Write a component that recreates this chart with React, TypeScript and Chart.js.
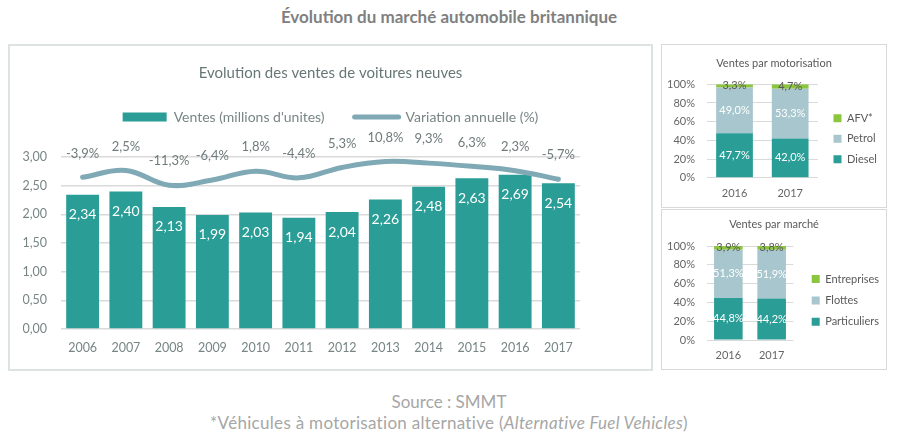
import React, { useEffect, useRef } from "react";
import { Chart, registerables } from "chart.js";

Chart.register(...registerables);

// ---------- DATA ----------
const years = ["2006", "2007", "2008", "2009", "2010", "2011", "2012", "2013", "2014", "2015", "2016", "2017"];
const sales = [2.34, 2.4, 2.13, 1.99, 2.03, 1.94, 2.04, 2.26, 2.48, 2.63, 2.69, 2.54];
const variation = [-3.9, 2.5, -11.3, -6.4, 1.8, -4.4, 5.3, 10.8, 9.3, 6.3, 2.3, -5.7];

const motorYears = ["2016", "2017"];
const diesel = [47.7, 42.0];
const petrol = [49.0, 53.3];
const afv = [3.3, 4.7];

const marketYears = ["2016", "2017"];
const particuliers = [44.8, 44.2];
const flottes = [51.3, 51.9];
const entreprises = [3.9, 3.8];

// ---------- STYLE ----------
const FONT = "Lato, 'Open Sans', sans-serif";
const TEAL = "#299d96";
const LINE = "#7ea9b5";
const PETROL = "#a7c6cd";
const GREEN = "#8cc63f";
const AXIS_TXT = "#788585";
const GRID = "#dadada";
const SMALL_TXT = "#666666";

Chart.defaults.font.family = FONT;

const fr = (v: number, d: number) => v.toFixed(d).replace(".", ",");

const mainLabels = {
  id: "mainLabels",
  afterDatasetsDraw(chart: any) {
    const ctx = chart.ctx;
    ctx.save();
    ctx.textAlign = "center";
    ctx.textBaseline = "middle";
    const barMeta = chart.getDatasetMeta(0);
    ctx.font = `14px ${FONT}`;
    ctx.fillStyle = "#ffffff";
    barMeta.data.forEach((el: any, i: number) => {
      const p = el.getProps(["x", "y"], true);
      ctx.fillText(fr(sales[i], 2), p.x, p.y + 20);
    });
    const lineMeta = chart.getDatasetMeta(1);
    ctx.font = `13px ${FONT}`;
    ctx.fillStyle = "#6f7b7b";
    lineMeta.data.forEach((el: any, i: number) => {
      const p = el.getProps(["x", "y"], true);
      ctx.fillText(fr(variation[i], 1) + "%", p.x, p.y - 24);
    });
    ctx.restore();
  },
};

const stackLabels = (colors: string[]) => ({
  id: "stackLabels",
  afterDatasetsDraw(chart: any) {
    const ctx = chart.ctx;
    ctx.save();
    ctx.textAlign = "center";
    ctx.textBaseline = "middle";
    ctx.font = `11px ${FONT}`;
    chart.data.datasets.forEach((ds: any, di: number) => {
      const meta = chart.getDatasetMeta(di);
      ctx.fillStyle = colors[di];
      meta.data.forEach((el: any, i: number) => {
        const p = el.getProps(["x", "y", "base"], true);
        ctx.fillText(fr(ds.data[i], 1) + "%", p.x, (p.y + p.base) / 2);
      });
    });
    ctx.restore();
  },
});

function MainChart() {
  const ref = useRef<HTMLCanvasElement>(null);
  useEffect(() => {
    const chart = new Chart(ref.current as HTMLCanvasElement, {
      type: "bar",
      data: {
        labels: years,
        datasets: [
          {
            type: "bar",
            label: "Ventes (millions d'unites)",
            data: sales,
            backgroundColor: TEAL,
            yAxisID: "y",
            barPercentage: 0.76,
            categoryPercentage: 1,
            order: 1,
          } as any,
          {
            type: "line",
            label: "Variation annuelle (%)",
            data: variation,
            borderColor: LINE,
            backgroundColor: LINE,
            borderWidth: 5,
            tension: 0.4,
            pointRadius: 0,
            pointHoverRadius: 0,
            yAxisID: "y2",
            order: 0,
            borderCapStyle: "round",
            borderJoinStyle: "round",
          } as any,
        ],
      },
      options: {
        animation: false,
        responsive: false,
        maintainAspectRatio: false,
        events: [],
        layout: { padding: { left: 13, right: 13, top: 0, bottom: 3 } },
        plugins: {
          title: {
            display: true,
            text: "Evolution des ventes de voitures neuves",
            color: "#677777",
            font: { family: FONT, size: 15, weight: "normal" },
            padding: { top: 18, bottom: -2 },
          },
          subtitle: {
            display: true,
            text: "",
            weight: 500,
            position: "top",
            font: { size: 1 },
            padding: { top: 0, bottom: 21.8 },
          } as any,
          legend: {
            display: true,
            position: "top",
            labels: {
              usePointStyle: true,
              pointStyleWidth: 44,
              boxHeight: 9,
              padding: 30,
              color: AXIS_TXT,
              font: { family: FONT, size: 14 },
              sort: (a: any, b: any) => a.datasetIndex - b.datasetIndex,
              generateLabels: (chart: any) => {
                const items = (Chart.defaults.plugins.legend.labels as any).generateLabels(chart);
                return items.map((it: any) =>
                  it.datasetIndex === 1
                    ? { ...it, pointStyle: "line", lineWidth: 5, strokeStyle: LINE, fillStyle: LINE, lineCap: "round" }
                    : { ...it, pointStyle: "rect", lineWidth: 0, fillStyle: TEAL }
                );
              },
            },
          },
          tooltip: { enabled: false },
        },
        scales: {
          x: {
            grid: { display: false, drawTicks: false },
            border: { display: false },
            ticks: { color: AXIS_TXT, font: { size: 12.5 }, padding: 11 },
          },
          y: {
            min: 0,
            max: 3,
            ticks: {
              stepSize: 0.5,
              padding: 14,
              color: AXIS_TXT,
              font: { size: 12.5 },
              callback: (v: any) => fr(Number(v), 2),
            },
            grid: { color: GRID, lineWidth: 1.5, drawTicks: false },
            border: { display: false },
            afterFit: (s: any) => {
              s.width = 38;
            },
          },
          y2: {
            position: "right",
            min: -145,
            max: 15,
            display: true,
            grid: { display: false, drawTicks: false },
            border: { display: false },
            ticks: { display: false },
            afterFit: (s: any) => {
              s.width = 58;
            },
          },
        },
      } as any,
      plugins: [mainLabels],
    });
    return () => chart.destroy();
  }, []);
  return <canvas ref={ref} width={641} height={323} style={{ position: "absolute", left: 0, top: 0 }} />;
}

type SmallProps = {
  labels: string[];
  series: { label: string; data: number[]; color: string; text: string }[];
  title: string;
  width: number;
  height: number;
  titlePad: { top: number; bottom: number };
  padBottom: number;
  xPad: number;
  spacer: number;
  legendPad: number;
  legendMax: number;
  legendTitlePad: number;
};

function SmallChart(props: SmallProps) {
  const ref = useRef<HTMLCanvasElement>(null);
  useEffect(() => {
    const chart = new Chart(ref.current as HTMLCanvasElement, {
      type: "bar",
      data: {
        labels: props.labels,
        datasets: props.series.map((s) => ({
          label: s.label,
          data: s.data,
          backgroundColor: s.color,
          barPercentage: 0.66,
          categoryPercentage: 1,
        })),
      },
      options: {
        animation: false,
        responsive: false,
        maintainAspectRatio: false,
        events: [],
        layout: { padding: { left: 0, right: 0, top: 0, bottom: props.padBottom } },
        plugins: {
          title: {
            display: true,
            text: props.title,
            color: "#595959",
            font: { family: FONT, size: 11, weight: "normal" },
            padding: props.titlePad,
          },
          legend: {
            display: true,
            position: "right",
            fullSize: false,
            align: "center",
            reverse: true,
            maxWidth: props.legendMax,
            title: { display: true, text: " ", font: { size: 10 }, padding: { top: 0, bottom: props.legendTitlePad } },
            labels: {
              boxWidth: 8,
              boxHeight: 8,
              padding: props.legendPad,
              color: "#595959",
              font: { family: FONT, size: 11 },
            },
          },
          tooltip: { enabled: false },
        },
        scales: {
          x: {
            stacked: true,
            grid: { display: false, drawTicks: false },
            border: { display: false },
            ticks: { color: SMALL_TXT, font: { size: 11 }, padding: props.xPad },
          },
          y: {
            stacked: true,
            min: 0,
            max: 100,
            ticks: {
              stepSize: 20,
              padding: 11.7,
              autoSkip: false,
              color: SMALL_TXT,
              font: { size: 11 },
              callback: (v: any) => v + "%",
            },
            grid: { color: GRID, lineWidth: 1, drawTicks: false },
            border: { display: false },
            afterFit: (s: any) => {
              s.width = 44.7;
            },
          },
          spacer: {
            type: "linear",
            position: "right",
            display: true,
            grid: { display: false, drawTicks: false },
            border: { display: false },
            ticks: { display: false },
            afterFit: (s: any) => {
              s.width = props.spacer;
            },
          },
        },
      } as any,
      plugins: [stackLabels(props.series.map((s) => s.text))],
    });
    return () => chart.destroy();
  }, []);
  return (
    <canvas
      ref={ref}
      width={props.width}
      height={props.height}
      style={{ position: "absolute", left: 0, top: 0 }}
    />
  );
}

export default function App() {
  return (
    <div
      style={{
        position: "absolute",
        left: 0,
        top: 0,
        width: 898,
        height: 442,
        background: "#ffffff",
        fontFamily: FONT,
        overflow: "hidden",
      }}
    >
      <div
        style={{
          position: "absolute",
          left: 0,
          top: 6,
          width: 898,
          textAlign: "center",
          fontSize: 17,
          fontWeight: 700,
          lineHeight: "22px",
          color: "#808080",
        }}
      >
        Évolution du marché automobile britannique
      </div>

      <div
        style={{
          position: "absolute",
          left: 8,
          top: 44,
          width: 645,
          height: 327,
          border: "2px solid #dde3e3",
          boxSizing: "border-box",
        }}
      >
        <MainChart />
      </div>

      <div
        style={{
          position: "absolute",
          left: 661,
          top: 44,
          width: 226,
          height: 164,
          border: "1px solid #d9d9d9",
          boxSizing: "border-box",
        }}
      >
        <SmallChart
          labels={motorYears}
          series={[
            { label: "Diesel", data: diesel, color: TEAL, text: "#ffffff" },
            { label: "Petrol", data: petrol, color: PETROL, text: "#ffffff" },
            { label: "AFV*", data: afv, color: GREEN, text: "#595959" },
          ]}
          title="Ventes par motorisation"
          width={224}
          height={162}
          titlePad={{ top: 11.7, bottom: 14.4 }}
          padBottom={-1.9}
          xPad={9}
          spacer={6}
          legendPad={9.5}
          legendMax={62}
          legendTitlePad={3.6}
        />
      </div>

      <div
        style={{
          position: "absolute",
          left: 661,
          top: 209,
          width: 226,
          height: 161,
          border: "1px solid #d9d9d9",
          boxSizing: "border-box",
        }}
      >
        <SmallChart
          labels={marketYears}
          series={[
            { label: "Particuliers", data: particuliers, color: TEAL, text: "#ffffff" },
            { label: "Flottes", data: flottes, color: PETROL, text: "#ffffff" },
            { label: "Entreprises", data: entreprises, color: GREEN, text: "#595959" },
          ]}
          title="Ventes par marché"
          width={224}
          height={159}
          titlePad={{ top: 7.7, bottom: 15.1 }}
          padBottom={-1}
          xPad={8.4}
          spacer={8}
          legendPad={10.4}
          legendMax={84.7}
          legendTitlePad={2.8}
        />
      </div>

      <div
        style={{
          position: "absolute",
          left: 0,
          top: 391,
          width: 898,
          textAlign: "center",
          fontSize: 17,
          lineHeight: "21px",
          color: "#a6a6a6",
        }}
      >
        <div>Source : SMMT</div>
        <div style={{ letterSpacing: "0.3px" }}>
          *Véhicules à motorisation alternative (<i>Alternative Fuel Vehicles</i>)
        </div>
      </div>
    </div>
  );
}
